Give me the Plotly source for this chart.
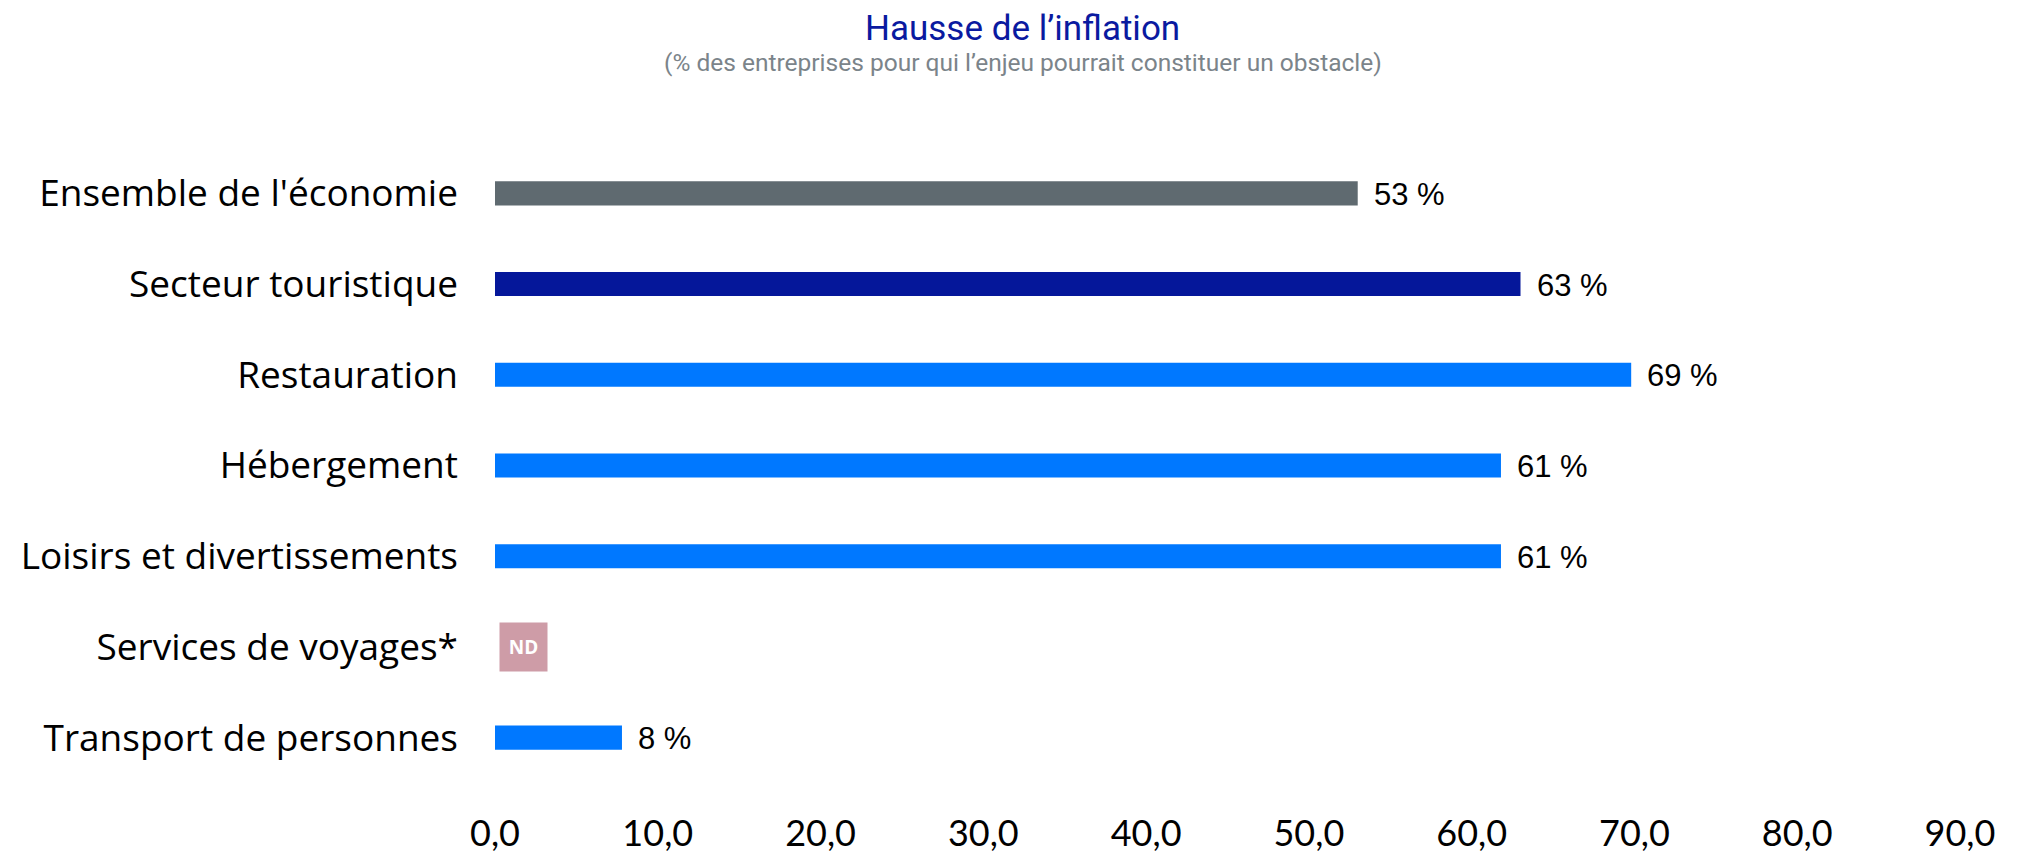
import plotly.graph_objects as go

categories = ["Ensemble de l'économie", "Secteur touristique", "Restauration",
              "Hébergement", "Loisirs et divertissements", "Services de voyages*",
              "Transport de personnes"]
values = [53.0, 63.0, 69.8, 61.8, 61.8, None, 7.8]
value_labels = ["53 %", "63 %", "69 %", "61 %", "61 %", "", "8 %"]
bar_colors = ["#5F6A70", "#05179A", "#0078FF", "#0078FF", "#0078FF", "#0078FF", "#0078FF"]
tick_values = [0, 10, 20, 30, 40, 50, 60, 70, 80, 90]
tick_labels = ["0,0", "10,0", "20,0", "30,0", "40,0", "50,0", "60,0", "70,0", "80,0", "90,0"]
missing_label = "ND"
title_text = "Hausse de l’inflation"
subtitle_text = "(% des entreprises pour qui l’enjeu pourrait constituer un obstacle)"

fig = go.Figure()

fig.add_trace(go.Bar(
    y=categories,
    x=values,
    orientation='h',
    marker=dict(color=bar_colors, line=dict(width=0)),
    width=0.265,
    hoverinfo='skip',
))

# value labels to the right of each bar
for cat, val, lab in zip(categories, values, value_labels):
    if val is None:
        continue
    fig.add_annotation(x=val, y=cat, text=lab, showarrow=False,
                       xanchor='left', xshift=14, yshift=-1,
                       font=dict(family='Liberation Sans, Arial', size=31, color='black'))

# ND box for missing value
for cat, val in zip(categories, values):
    if val is None:
        fig.add_annotation(x=0, y=cat, text=f"<b>{missing_label}</b>", showarrow=False,
                           xanchor='left', xshift=4,
                           width=45, height=46, bgcolor='#CE9CA7',
                           font=dict(family='Open Sans', size=19, color='white'))

# title + subtitle as annotations above the plot
fig.add_annotation(xref='paper', yref='paper', x=0.3604, y=1, yanchor='middle', yshift=120,
                   text=title_text, showarrow=False, borderpad=0,
                   font=dict(family='Roboto', size=35, color='#0A1AA0'))
fig.add_annotation(xref='paper', yref='paper', x=0.3604, y=1, yanchor='middle', yshift=86,
                   text=subtitle_text, showarrow=False, borderpad=0,
                   font=dict(family='Roboto', size=24.5, color='#7B848A'))

# page body has an 8px margin, so the figure is a bit smaller than the window
fig.update_layout(
    width=2026, height=846,
    margin=dict(l=487, r=74, t=140, b=71),
    paper_bgcolor='white',
    plot_bgcolor='white',
    showlegend=False,
    xaxis=dict(
        range=[0, 90],
        tickvals=tick_values,
        ticktext=tick_labels,
        showgrid=False, zeroline=False, showline=False,
        ticks='', ticklabelstandoff=26, automargin=False,
        tickfont=dict(family='Lato', size=36, color='black'),
        fixedrange=True,
    ),
    yaxis=dict(
        autorange='reversed',
        showgrid=False, zeroline=False, showline=False,
        ticks='', ticklabelstandoff=36, automargin=False,
        tickfont=dict(family='Open Sans', size=37, color='black'),
        fixedrange=True,
    ),
)

fig.write_html("out.html")
